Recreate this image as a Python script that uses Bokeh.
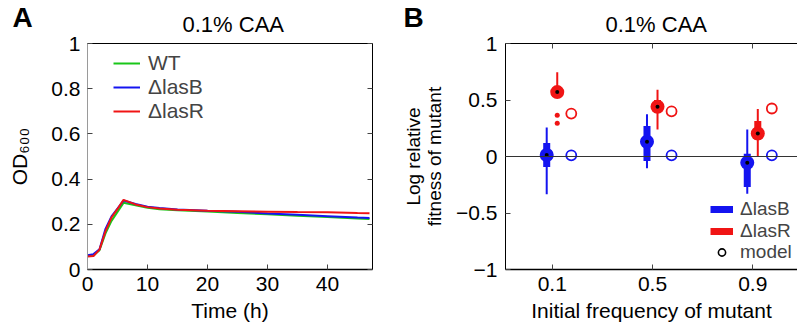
from bokeh.plotting import figure
from bokeh.models import (FixedTicker, LinearAxis, Legend, LegendItem, Span,
                          Range1d, Title)
from bokeh.layouts import row
from bokeh.embed import file_html
from bokeh.resources import INLINE

FONT = "Liberation Sans"
GREEN = "#19C619"
BLUE = "#1414F0"
RED = "#F01414"
NAN = float("nan")

# ---------------- Panel A data (growth curves) ----------------
time_h = [0, 1, 2, 3, 4, 5, 6, 8, 10, 12, 15, 20, 25, 30, 35, 40, 45, 47]
od_wt = [0.060, 0.062, 0.085, 0.160, 0.215, 0.255, 0.295, 0.284, 0.273, 0.267,
         0.262, 0.257, 0.250, 0.244, 0.238, 0.232, 0.226, 0.224]
od_lasB = [0.063, 0.068, 0.090, 0.180, 0.235, 0.270, 0.305, 0.290, 0.278, 0.272,
           0.266, 0.260, 0.255, 0.248, 0.242, 0.236, 0.230, 0.228]
od_lasR = [0.058, 0.060, 0.088, 0.170, 0.230, 0.268, 0.308, 0.288, 0.276, 0.270,
           0.264, 0.260, 0.258, 0.256, 0.254, 0.253, 0.250, 0.249]
series_names_A = ["WT", "\u0394lasB", "\u0394lasR"]
x_ticks_A = [0, 10, 20, 30, 40]
x_tick_labels_A = ["0", "10", "20", "30", "40"]
y_ticks_A = [0, 0.2, 0.4, 0.6, 0.8, 1]
y_tick_labels_A = ["0", "0.2", "0.4", "0.6", "0.8", "1"]

# ---------------- Panel B data (fitness) ----------------
freq_labels = ["0.1", "0.5", "0.9"]
freq_pos = [1, 2, 3]
lasB_center = [0.013, 0.13, -0.055]
lasB_box_lo = [-0.093, -0.04, -0.27]
lasB_box_hi = [0.12, 0.27, 0.025]
lasB_wlo = [-0.335, -0.105, -0.33]
lasB_whi = [0.256, 0.375, 0.24]
lasR_center = [0.57, 0.44, 0.203]
lasR_box_lo = [0.54, 0.39, 0.15]
lasR_box_hi = [0.61, 0.50, 0.315]
lasR_wlo = [0.52, 0.24, 0.0]
lasR_whi = [0.745, 0.59, 0.42]
lasR_outlier_freq_idx = [0, 0]
lasR_outlier_val = [0.366, 0.295]
model_lasB = [0.01, 0.01, 0.01]
model_lasR = [0.38, 0.40, 0.425]
y_ticks_B = [-1, -0.5, 0, 0.5, 1]
y_tick_labels_B = ["\u22121", "\u22120.5", "0", "0.5", "1"]
series_names_B = ["\u0394lasB", "\u0394lasR", "model"]
title_text = "0.1% CAA"
panel_letters = ["A", "B"]


def style_axis(ax, ticks, labels, show_labels=True, line_color="black",
               line_width=1.0, tick_in=5):
    ax.ticker = FixedTicker(ticks=ticks)
    ax.major_tick_in = tick_in
    ax.major_tick_out = 0
    ax.major_tick_line_color = "#444444" if tick_in else None
    ax.minor_tick_line_color = None
    ax.axis_line_color = line_color
    ax.axis_line_width = line_width
    ax.major_label_text_font = FONT
    if show_labels:
        ax.major_label_overrides = {t: l for t, l in zip(ticks, labels)}
        ax.major_label_text_font_size = "21px"
        ax.major_label_text_color = "black"
    else:
        # frame-side axis: tick marks only, no tick text drawn
        ax.major_label_text_font_size = "1px"
        ax.major_label_text_color = None
        ax.major_label_standoff = 0
    ax.axis_label_text_font = FONT
    ax.axis_label_text_font_size = "21px"
    ax.axis_label_text_font_style = "normal"
    ax.axis_label_text_color = "black"


def add_titles(p, letter, title_offset, letter_offset):
    t1 = Title(text=title_text, align="left", offset=title_offset, standoff=13,
               text_font=FONT, text_font_size="22px", text_font_style="normal",
               text_color="black")
    p.add_layout(t1, "above")
    t2 = Title(text=letter, align="left", offset=letter_offset, standoff=-59,
               text_font=FONT, text_font_size="28px", text_font_style="bold",
               text_color="black")
    p.add_layout(t2, "above")


# ======================= Panel A =======================
pA = figure(width=400, height=334, x_range=Range1d(0, 47.5), y_range=Range1d(0, 1),
            output_backend="svg", toolbar_location=None,
            min_border_left=87, min_border_right=28, min_border_top=43,
            min_border_bottom=65, x_axis_label="Time (h)",
            y_axis_label="OD\u2086\u2080\u2080")
pA.outline_line_color = None
pA.grid.visible = False
style_axis(pA.xaxis[0], x_ticks_A, x_tick_labels_A, line_width=1.5)
style_axis(pA.yaxis[0], y_ticks_A, y_tick_labels_A, line_color="#9a9a9a")
pA.xaxis[0].major_label_standoff = 7
pA.xaxis[0].axis_label_standoff = 5
pA.yaxis[0].major_label_standoff = 7
pA.yaxis[0].axis_label_standoff = 17

axA_r = LinearAxis()
style_axis(axA_r, y_ticks_A, y_tick_labels_A, show_labels=False)
pA.add_layout(axA_r, "right")
axA_t = LinearAxis()
style_axis(axA_t, x_ticks_A, x_tick_labels_A, show_labels=False, tick_in=0)
pA.add_layout(axA_t, "above")
add_titles(pA, panel_letters[0], 95, -75)

rw = pA.line(time_h, od_wt, line_color=GREEN, line_width=2)
rb = pA.line(time_h, od_lasB, line_color=BLUE, line_width=2)
rr = pA.line(time_h, od_lasR, line_color=RED, line_width=2)

legA = Legend(items=[LegendItem(label=series_names_A[0], renderers=[rw]),
                     LegendItem(label=series_names_A[1], renderers=[rb]),
                     LegendItem(label=series_names_A[2], renderers=[rr])],
              location=(26, 146))
legA.border_line_color = None
legA.background_fill_alpha = 0
legA.padding = 0
legA.margin = 0
legA.spacing = 0
legA.glyph_width = 27
legA.glyph_height = 20
legA.label_height = 20
legA.label_standoff = 8
legA.label_text_font = FONT
legA.label_text_font_size = "21px"
pA.add_layout(legA)

# ======================= Panel B =======================
pB = figure(width=397, height=334, x_range=Range1d(0.534, 3.446), y_range=Range1d(-1, 1),
            output_backend="svg", toolbar_location=None,
            min_border_left=105, min_border_right=0, min_border_top=43,
            min_border_bottom=65, x_axis_label="Initial frequency of mutant",
            y_axis_label="Log relative\nfitness of mutant")
pB.outline_line_color = None
pB.grid.visible = False
style_axis(pB.xaxis[0], freq_pos, freq_labels, line_width=1.5)
style_axis(pB.yaxis[0], y_ticks_B, y_tick_labels_B)
pB.xaxis[0].major_label_standoff = 7
pB.xaxis[0].axis_label_standoff = 5
pB.yaxis[0].major_label_standoff = 8
pB.yaxis[0].axis_label_standoff = 8
pB.yaxis[0].axis_label_text_font_size = "19px"
pB.yaxis[0].axis_label_text_line_height = 1.0
axB_t = LinearAxis()
style_axis(axB_t, freq_pos, freq_labels, show_labels=False)
pB.add_layout(axB_t, "above")
add_titles(pB, panel_letters[1], 100, -102)

pB.add_layout(Span(location=0, dimension="width", line_color="#333333", line_width=1.2))

OFF_B, OFF_R, OFF_M = -0.055, 0.05, 0.19
xb = [p + OFF_B for p in freq_pos]
xr = [p + OFF_R for p in freq_pos]
xm = [p + OFF_M for p in freq_pos]

# lasB
pB.segment(xb, lasB_wlo, xb, lasB_whi, line_color=BLUE, line_width=2)
pB.vbar(x=xb, bottom=lasB_box_lo, top=lasB_box_hi, width=0.07,
        fill_color=BLUE, line_color=None)
pB.scatter(xb, lasB_center, size=14, fill_color=BLUE, line_color=None)
pB.scatter(xb, lasB_center, size=4, fill_color="black", line_color=None)
# lasR
pB.segment(xr, lasR_wlo, xr, lasR_whi, line_color=RED, line_width=2)
pB.vbar(x=xr, bottom=lasR_box_lo, top=lasR_box_hi, width=0.07,
        fill_color=RED, line_color=None)
pB.scatter(xr, lasR_center, size=14, fill_color=RED, line_color=None)
pB.scatter(xr, lasR_center, size=4, fill_color="black", line_color=None)
pB.scatter([xr[i] for i in lasR_outlier_freq_idx], lasR_outlier_val, size=5,
           fill_color=RED, line_color=None)
# model
pB.scatter(xm, model_lasB, size=10, fill_color=None, line_color=BLUE, line_width=1.8)
pB.scatter(xm, model_lasR, size=10, fill_color=None, line_color=RED, line_width=1.8)

# legend proxies (not drawn: NaN data)
lb = pB.line(x=[NAN, NAN], y=[NAN, NAN], line_color=BLUE, line_width=7)
lr = pB.line(x=[NAN, NAN], y=[NAN, NAN], line_color=RED, line_width=7)
lm = pB.scatter(x=[NAN], y=[NAN], size=8, fill_color=None, line_color="black",
                line_width=1.6)
for name, rend, vy in zip(series_names_B, [lb, lr, lm], [49, 27, 6]):
    lg = Legend(items=[LegendItem(label=name, renderers=[rend])], location=(205, vy))
    lg.border_line_color = None
    lg.background_fill_alpha = 0
    lg.padding = 0
    lg.margin = 0
    lg.glyph_width = 23
    lg.glyph_height = 18
    lg.label_height = 18
    lg.label_standoff = 7
    lg.label_text_font = FONT
    lg.label_text_font_size = "19px"
    pB.add_layout(lg)

layout = row(pA, pB)
open("out.html", "w").write(file_html(layout, INLINE))
